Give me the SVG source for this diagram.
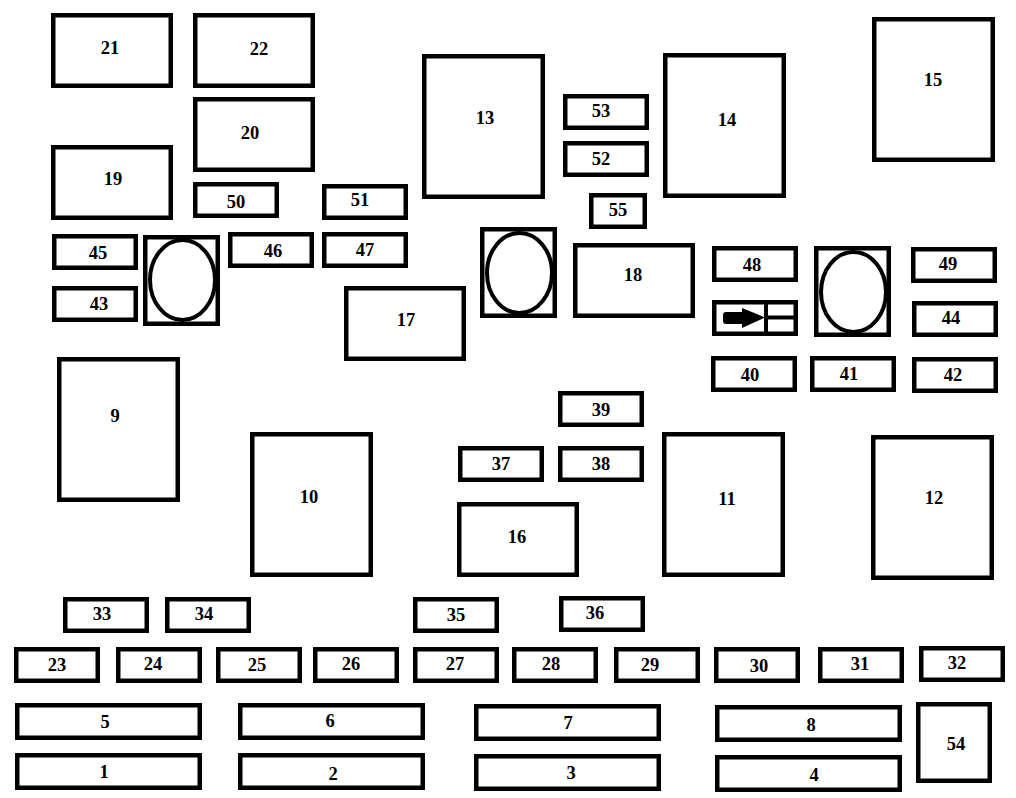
<svg xmlns="http://www.w3.org/2000/svg" width="1016" height="798" viewBox="0 0 1016 798">
<style>
.b{fill:#fff;stroke:#000;stroke-width:4.5}
.l{fill:none;stroke:#000;stroke-width:4}
.e{fill:#fff;stroke:#000;stroke-width:4}
text{font-family:"Liberation Serif","Times New Roman",serif;font-size:18.5px;font-weight:bold;fill:#000;text-anchor:middle}
</style>
<rect width="1016" height="798" fill="#fff"/>
<g id="n21"><rect class="b" x="53.25" y="15.25" width="117.5" height="70.5"/><text x="110" y="54">21</text></g>
<g id="n22"><rect class="b" x="195.25" y="15.25" width="117.5" height="70.5"/><text x="259" y="55">22</text></g>
<g id="n20"><rect class="b" x="195.25" y="99.25" width="117.5" height="70.5"/><text x="250" y="139">20</text></g>
<g id="n19"><rect class="b" x="53.25" y="147.25" width="117.5" height="70.5"/><text x="113" y="185">19</text></g>
<g id="n13"><rect class="b" x="424.25" y="56.25" width="118.5" height="140.5"/><text x="485" y="124">13</text></g>
<g id="n14"><rect class="b" x="665.25" y="55.25" width="118.5" height="140.5"/><text x="727" y="126">14</text></g>
<g id="n15"><rect class="b" x="874.25" y="19.25" width="118.5" height="140.5"/><text x="933" y="86">15</text></g>
<g id="n53"><rect class="b" x="565.25" y="96.25" width="81.5" height="31.5"/><text x="601" y="117">53</text></g>
<g id="n52"><rect class="b" x="565.25" y="143.25" width="81.5" height="31.5"/><text x="601" y="165">52</text></g>
<g id="n55"><rect class="b" x="591.25" y="195.25" width="53.5" height="31.5"/><text x="618" y="216">55</text></g>
<g id="n50"><rect class="b" x="195.25" y="184.25" width="81.5" height="31.5"/><text x="236" y="208">50</text></g>
<g id="n51"><rect class="b" x="324.25" y="186.25" width="81.5" height="31.5"/><text x="360" y="206">51</text></g>
<g id="n46"><rect class="b" x="230.25" y="234.25" width="81.5" height="31.5"/><text x="273" y="257">46</text></g>
<g id="n47"><rect class="b" x="324.25" y="234.25" width="81.5" height="31.5"/><text x="365" y="256">47</text></g>
<g id="n45"><rect class="b" x="54.25" y="236.25" width="81.5" height="31.5"/><text x="98" y="259">45</text></g>
<g id="n43"><rect class="b" x="54.25" y="288.25" width="81.5" height="31.5"/><text x="99" y="310">43</text></g>
<g id="n17"><rect class="b" x="346.25" y="288.25" width="117.5" height="70.5"/><text x="406" y="326">17</text></g>
<g id="n18"><rect class="b" x="575.25" y="245.25" width="117.5" height="70.5"/><text x="633" y="281">18</text></g>
<g id="n48"><rect class="b" x="714.25" y="248.25" width="81.5" height="31.5"/><text x="752" y="271">48</text></g>
<g id="n49"><rect class="b" x="913.25" y="249.25" width="81.5" height="31.5"/><text x="948" y="270">49</text></g>
<g id="n44"><rect class="b" x="914.25" y="303.25" width="81.5" height="31.5"/><text x="951" y="324">44</text></g>
<g id="n40"><rect class="b" x="713.25" y="358.25" width="81.5" height="31.5"/><text x="750" y="381">40</text></g>
<g id="n41"><rect class="b" x="812.25" y="358.25" width="81.5" height="31.5"/><text x="849" y="380">41</text></g>
<g id="n42"><rect class="b" x="914.25" y="359.25" width="81.5" height="31.5"/><text x="953" y="381">42</text></g>
<g id="n9"><rect class="b" x="59.25" y="359.25" width="118.5" height="140.5"/><text x="115" y="422">9</text></g>
<g id="n10"><rect class="b" x="252.25" y="434.25" width="118.5" height="140.5"/><text x="309" y="503">10</text></g>
<g id="n11"><rect class="b" x="664.25" y="434.25" width="118.5" height="140.5"/><text x="727" y="505">11</text></g>
<g id="n12"><rect class="b" x="873.25" y="437.25" width="118.5" height="140.5"/><text x="934" y="504">12</text></g>
<g id="n39"><rect class="b" x="560.25" y="393.25" width="81.5" height="31.5"/><text x="601" y="416">39</text></g>
<g id="n37"><rect class="b" x="460.25" y="448.25" width="81.5" height="31.5"/><text x="501" y="470">37</text></g>
<g id="n38"><rect class="b" x="560.25" y="448.25" width="81.5" height="31.5"/><text x="601" y="470">38</text></g>
<g id="n16"><rect class="b" x="459.25" y="504.25" width="117.5" height="70.5"/><text x="517" y="543">16</text></g>
<g id="n33"><rect class="b" x="65.25" y="599.25" width="81.5" height="31.5"/><text x="102" y="620">33</text></g>
<g id="n34"><rect class="b" x="167.25" y="599.25" width="81.5" height="31.5"/><text x="204" y="620">34</text></g>
<g id="n35"><rect class="b" x="415.25" y="599.25" width="81.5" height="31.5"/><text x="456" y="621">35</text></g>
<g id="n36"><rect class="b" x="561.25" y="598.25" width="81.5" height="31.5"/><text x="595" y="619">36</text></g>
<g id="n23"><rect class="b" x="16.25" y="649.25" width="81.5" height="31.5"/><text x="57" y="671">23</text></g>
<g id="n24"><rect class="b" x="118.25" y="649.25" width="81.5" height="31.5"/><text x="153" y="670">24</text></g>
<g id="n25"><rect class="b" x="218.25" y="649.25" width="81.5" height="31.5"/><text x="257" y="671">25</text></g>
<g id="n26"><rect class="b" x="315.25" y="649.25" width="81.5" height="31.5"/><text x="351" y="670">26</text></g>
<g id="n27"><rect class="b" x="415.25" y="649.25" width="81.5" height="31.5"/><text x="455" y="670">27</text></g>
<g id="n28"><rect class="b" x="514.25" y="649.25" width="81.5" height="31.5"/><text x="551" y="670">28</text></g>
<g id="n29"><rect class="b" x="616.25" y="649.25" width="81.5" height="31.5"/><text x="650" y="671">29</text></g>
<g id="n30"><rect class="b" x="716.25" y="649.25" width="81.5" height="31.5"/><text x="759" y="672">30</text></g>
<g id="n31"><rect class="b" x="820.25" y="649.25" width="81.5" height="31.5"/><text x="860" y="670">31</text></g>
<g id="n32"><rect class="b" x="921.25" y="648.25" width="81.5" height="31.5"/><text x="957" y="669">32</text></g>
<g id="n5"><rect class="b" x="17.25" y="705.25" width="182.5" height="32.5"/><text x="105" y="728">5</text></g>
<g id="n6"><rect class="b" x="240.25" y="705.25" width="182.5" height="32.5"/><text x="330" y="727">6</text></g>
<g id="n7"><rect class="b" x="476.25" y="706.25" width="182.5" height="32.5"/><text x="568" y="729">7</text></g>
<g id="n8"><rect class="b" x="717.25" y="707.25" width="182.5" height="32.5"/><text x="811" y="731">8</text></g>
<g id="n1"><rect class="b" x="17.25" y="755.25" width="182.5" height="32.5"/><text x="104" y="778">1</text></g>
<g id="n2"><rect class="b" x="240.25" y="755.25" width="182.5" height="32.5"/><text x="333" y="780">2</text></g>
<g id="n3"><rect class="b" x="476.25" y="756.25" width="182.5" height="32.5"/><text x="571" y="779">3</text></g>
<g id="n4"><rect class="b" x="717.25" y="757.25" width="182.5" height="32.5"/><text x="814" y="781">4</text></g>
<g id="n54"><rect class="b" x="918.25" y="704.25" width="71.5" height="76.5"/><text x="956" y="750">54</text></g>
<g id="oval1"><rect class="b" x="145.25" y="237.25" width="72.5" height="86.5"/><ellipse class="e" cx="182.5" cy="280" rx="32.5" ry="40"/></g>
<g id="oval2"><rect class="b" x="482.25" y="229.25" width="72.5" height="86.5"/><ellipse class="e" cx="519.5" cy="273" rx="32.5" ry="40"/></g>
<g id="oval3"><rect class="b" x="816.25" y="248.25" width="72.5" height="86.5"/><ellipse class="e" cx="853.5" cy="292" rx="32.5" ry="40"/></g>
<g id="relay"><rect class="b" x="714.25" y="302.25" width="81.5" height="31.5"/>
<path class="l" d="M766 302V334M766 317.5H796"/>
<path d="M726 312H742V308L765 317.5L742 328V324H726Q723 324 723 321V315Q723 312 726 312Z" fill="#000"/></g>
<g id="connectors"></g>
</svg>
